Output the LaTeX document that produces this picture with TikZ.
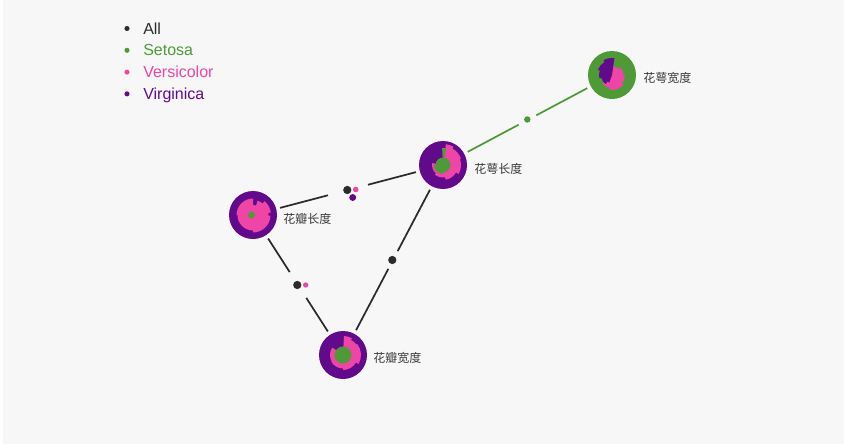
\documentclass[tikz,border=0pt]{standalone}
\usepackage{fontspec}
\setmainfont{Liberation Sans}
\newfontfamily\cjk{Noto Sans CJK SC}
\usetikzlibrary{calc}
\definecolor{bgc}{HTML}{F7F7F7}
\definecolor{gr}{HTML}{4E9A37}
\definecolor{pk}{HTML}{EE45A6}
\definecolor{pu}{HTML}{620A8C}
\definecolor{bk}{HTML}{2B2B2B}
\definecolor{tx}{HTML}{3A3A3A}
\newcommand{\rosefill}[3]{%
  \fill[#1, shift={(#2.center)}] (0,0) \foreach \a/\b/\r in {#3} { -- (\a:{0.75pt*\r}) arc[start angle=\a, end angle=\b, radius={0.75pt*\r}]} -- cycle;}
\begin{document}
\begin{tikzpicture}[x=0.75pt,y=0.75pt,
  glyph/.style={circle, minimum size=36pt, inner sep=0pt, outer sep=3pt, fill=#1},
  gapnode/.style={circle, minimum size=#1, inner sep=0pt, outer sep=0pt},
  edgeline/.style={line width=1.3pt, draw=#1},
  dotnode/.style={circle, fill=#1, inner sep=0pt},
  lbl/.style={font=\cjk\fontsize{9}{11}\selectfont, text=tx, inner sep=0pt, anchor=west},
  legdot/.style={circle, fill=#1, minimum size=3.8pt, inner sep=0pt},
  legtxt/.style={font=\fontsize{12}{14}\selectfont, text=#1, inner sep=0pt, anchor=base west}]
\useasboundingbox (0,0) rectangle (844,-444);
\fill[bgc] (3,0) rectangle (844,-444);

% legend
\node[legdot=bk] (ld1) at (127,-28.5) {};
\node[legtxt=bk] (lt1) at (143,-34) {All};
\node[legdot=gr] (ld2) at (127,-50.3) {};
\node[legtxt=gr] (lt2) at (143,-55.8) {Setosa};
\node[legdot=pk] (ld3) at (127,-72.1) {};
\node[legtxt=pk] (lt3) at (143,-77.6) {Versicolor};
\node[legdot=pu] (ld4) at (127,-93.9) {};
\node[legtxt=pu] (lt4) at (143,-99.4) {Virginica};

% glyph nodes
\node[glyph=gr] (swid) at (612,-75) {};
\node[glyph=pu] (slen) at (443,-165) {};
\node[glyph=pu] (plen) at (253,-215) {};
\node[glyph=pu] (pwid) at (343,-355) {};

% gap nodes (edge midpoints)
\node[gapnode=15pt] (m1) at ($(slen)!0.5!(swid)$) {};
\node[gapnode=31pt] (m2) at ($(plen)!0.5!(slen)$) {};
\node[gapnode=15pt] (m3) at ($(slen)!0.5!(pwid)$) {};
\node[gapnode=23pt] (m4) at ($(plen)!0.5!(pwid)$) {};

% edges
\draw[edgeline=gr] (slen) -- (m1);
\draw[edgeline=gr] (m1) -- (swid);
\draw[edgeline=bk] (plen) -- (m2);
\draw[edgeline=bk] (m2) -- (slen);
\draw[edgeline=bk] (slen) -- (m3);
\draw[edgeline=bk] (m3) -- (pwid);
\draw[edgeline=bk] (plen) -- (m4);
\draw[edgeline=bk] (m4) -- (pwid);

% edge dots
\node[dotnode=gr, minimum size=4.8pt] (e1) at (527.3,-119.5) {};
\node[dotnode=bk, minimum size=6.2pt] (e2a) at (347.3,-190) {};
\node[dotnode=pk, minimum size=4.2pt] (e2b) at (355.7,-189.5) {};
\node[dotnode=pu, minimum size=5.2pt] (e2c) at (352.7,-197.5) {};
\node[dotnode=bk, minimum size=6.2pt] (e3) at (392.3,-260) {};
\node[dotnode=bk, minimum size=6.2pt] (e4a) at (297.3,-285) {};
\node[dotnode=pk, minimum size=4pt] (e4b) at (305.7,-285) {};

% glyph contents
% sepal width
\rosefill{pk}{swid}{80/40/9, 40/0/11.5, 0/-40/13, -40/-100/15, -100/-135/13}
\rosefill{pu}{swid}{82/120/17, 120/160/15, 160/195/13, 195/235/11, 235/250/8}
% sepal length
\rosefill{pk}{slen}{82/60/21, 60/20/19, 20/-30/18, -30/-80/15, -80/-130/12.5, -130/-190/11}
\fill[gr] (slen.center) circle[radius=5.6pt];
\rosefill{gr}{slen}{80/93/17}
\rosefill{gr}{slen}{180/270/9}
% petal length
\rosefill{pk}{plen}{90/72/10, 72/50/15, 50/8/18, 8/-2/15.5, -2/-90/17.5, -90/-180/15.5, -180/-270/16.5}
\fill[gr] ($(plen.center)+(-1.5,0)$) circle[radius=2.6pt];
% petal width
\rosefill{pk}{pwid}{87/62/19, 62/38/17, 38/-30/18, -30/-90/15, -90/-150/13.5, -150/-215/13}
\fill[gr] (pwid.center) circle[radius=6.4pt];

% labels
\node[lbl] (tswid) at ($(swid.center)+(31,-3)$) {花萼宽度};
\node[lbl] (tslen) at ($(slen.center)+(31,-4)$) {花萼长度};
\node[lbl] (tplen) at ($(plen.center)+(30,-4)$) {花瓣长度};
\node[lbl] (tpwid) at ($(pwid.center)+(30,-3)$) {花瓣宽度};
\end{tikzpicture}
\end{document}
